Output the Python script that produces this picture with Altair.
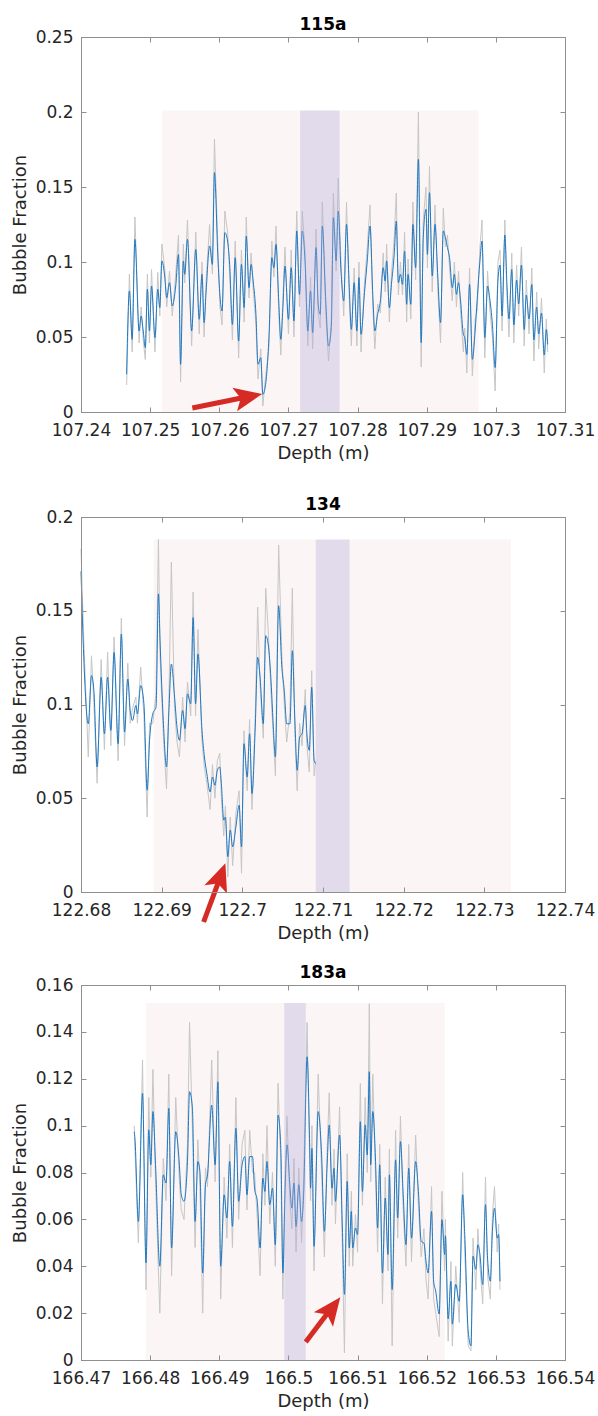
import altair as alt
import pandas as pd

# ---------------- Panel 1 : 115a ----------------
p1_depth = [107.2466, 107.2470, 107.2474, 107.2478, 107.2484, 107.2487, 107.2490, 107.2493, 107.2496, 107.2499,
            107.2502, 107.2507, 107.2511, 107.2514, 107.2517, 107.2521, 107.2524, 107.2528, 107.2532, 107.2537,
            107.2541, 107.2544, 107.2548, 107.2550, 107.2554, 107.2560, 107.2566, 107.2571, 107.2575, 107.2578,
            107.2581, 107.2586, 107.2590, 107.2593, 107.2598, 107.2601, 107.2604, 107.2608, 107.2612, 107.2615,
            107.2619, 107.2623, 107.2628, 107.2632, 107.2636, 107.2639, 107.2643, 107.2646, 107.2649, 107.2653,
            107.2656, 107.2660, 107.2663, 107.2667, 107.2672, 107.2676, 107.2679, 107.2682, 107.2686, 107.2689,
            107.2692, 107.2695, 107.2700, 107.2704, 107.2708, 107.2712, 107.2716, 107.2720, 107.2724, 107.2728,
            107.2732, 107.2735, 107.2740, 107.2743, 107.2746, 107.2749, 107.2754, 107.2758, 107.2762, 107.2765,
            107.2769, 107.2772, 107.2776, 107.2780, 107.2784, 107.2788, 107.2791, 107.2795, 107.2799, 107.2802,
            107.2805, 107.2810, 107.2814, 107.2818, 107.2822, 107.2825, 107.2829, 107.2833, 107.2837, 107.2840,
            107.2842, 107.2846, 107.2849, 107.2853, 107.2856, 107.2859, 107.2862, 107.2865, 107.2868, 107.2871,
            107.2873, 107.2877, 107.2880, 107.2884, 107.2888, 107.2892, 107.2895, 107.2899, 107.2901, 107.2904,
            107.2908, 107.2912, 107.2916, 107.2920, 107.2924, 107.2927, 107.2930, 107.2933, 107.2937, 107.2940,
            107.2943, 107.2946, 107.2949, 107.2953, 107.2955, 107.2958, 107.2962, 107.2966, 107.2970, 107.2973,
            107.2977, 107.2980, 107.2984, 107.2988, 107.2991, 107.2995, 107.2999, 107.3003, 107.3006, 107.3009,
            107.3013, 107.3016, 107.3019, 107.3023, 107.3026, 107.3030, 107.3033, 107.3037, 107.3041, 107.3044,
            107.3048, 107.3052, 107.3055, 107.3059, 107.3062, 107.3066, 107.3070, 107.3073, 107.3075]
p1_smooth = [0.0251, 0.0807, 0.0484, 0.1151, 0.0540, 0.0640, 0.0540, 0.0429, 0.0818, 0.0540,
             0.0840, 0.0496, 0.0818, 0.0696, 0.1007, 0.0907, 0.0762, 0.0862, 0.0707, 0.0840,
             0.1051, 0.0318, 0.1007, 0.0918, 0.1151, 0.0540, 0.1084, 0.0618, 0.0918, 0.0596,
             0.0807, 0.1107, 0.0984, 0.1596, 0.1029, 0.0773, 0.0673, 0.1196, 0.1140, 0.0984,
             0.0584, 0.1029, 0.0473, 0.0984, 0.0696, 0.1173, 0.0829, 0.0984, 0.0873, 0.0651,
             0.0318, 0.0362, 0.0118, 0.0184, 0.0518, 0.1029, 0.0962, 0.1118, 0.0740, 0.0484,
             0.0696, 0.0973, 0.0618, 0.0962, 0.0607, 0.1207, 0.0784, 0.1207, 0.1007, 0.0540,
             0.0807, 0.0529, 0.1096, 0.0718, 0.0651, 0.1240, 0.0740, 0.0440, 0.0562, 0.1296,
             0.1007, 0.1340, 0.0940, 0.0740, 0.1251, 0.0829, 0.0551, 0.0862, 0.0540, 0.0896,
             0.0518, 0.0796, 0.1007, 0.1240, 0.0784, 0.0540, 0.0651, 0.0740, 0.0962, 0.0873,
             0.1007, 0.0696, 0.0851, 0.1051, 0.1273, 0.0862, 0.0918, 0.0851, 0.1073, 0.0718,
             0.0918, 0.0718, 0.1251, 0.0962, 0.1684, 0.0462, 0.1162, 0.1351, 0.1051, 0.1462,
             0.0907, 0.1251, 0.0907, 0.0596, 0.1207, 0.1162, 0.1096, 0.1029, 0.0829, 0.0918,
             0.0784, 0.0862, 0.0740, 0.0518, 0.0496, 0.0384, 0.0851, 0.0351, 0.0540, 0.0751,
             0.1007, 0.1140, 0.0496, 0.0840, 0.0762, 0.0584, 0.0296, 0.0873, 0.0980, 0.0640,
             0.1180, 0.0850, 0.0620, 0.0950, 0.0580, 0.0880, 0.0720, 0.0980, 0.0550, 0.0780,
             0.0620, 0.0850, 0.0480, 0.0700, 0.0520, 0.0660, 0.0380, 0.0550, 0.0450]
p1_raw = [0.018, 0.092, 0.040, 0.130, 0.046, 0.070, 0.048, 0.035, 0.092, 0.046,
          0.095, 0.040, 0.093, 0.064, 0.112, 0.096, 0.070, 0.094, 0.064, 0.092,
          0.118, 0.020, 0.112, 0.086, 0.128, 0.044, 0.120, 0.052, 0.100, 0.050,
          0.088, 0.125, 0.092, 0.182, 0.110, 0.070, 0.058, 0.134, 0.120, 0.092,
          0.048, 0.114, 0.036, 0.108, 0.060, 0.130, 0.076, 0.106, 0.082, 0.058,
          0.022, 0.042, 0.004, 0.024, 0.044, 0.114, 0.090, 0.124, 0.066, 0.038,
          0.076, 0.110, 0.052, 0.108, 0.050, 0.134, 0.070, 0.134, 0.108, 0.044,
          0.090, 0.042, 0.122, 0.066, 0.056, 0.140, 0.066, 0.034, 0.062, 0.146,
          0.094, 0.156, 0.100, 0.064, 0.140, 0.076, 0.044, 0.096, 0.044, 0.100,
          0.040, 0.086, 0.110, 0.138, 0.070, 0.042, 0.072, 0.066, 0.106, 0.080,
          0.112, 0.060, 0.092, 0.116, 0.146, 0.078, 0.100, 0.078, 0.120, 0.060,
          0.102, 0.062, 0.140, 0.088, 0.200, 0.030, 0.128, 0.150, 0.096, 0.164,
          0.080, 0.138, 0.082, 0.046, 0.136, 0.110, 0.118, 0.096, 0.074, 0.100,
          0.070, 0.094, 0.066, 0.040, 0.056, 0.026, 0.096, 0.024, 0.062, 0.068,
          0.110, 0.128, 0.036, 0.094, 0.070, 0.050, 0.014, 0.100, 0.108, 0.054,
          0.128, 0.078, 0.050, 0.106, 0.046, 0.098, 0.064, 0.110, 0.044, 0.088,
          0.052, 0.096, 0.034, 0.080, 0.042, 0.076, 0.026, 0.062, 0.040]

# ---------------- Panel 2 : 134 ----------------
p2_depth = [122.6800, 122.6803, 122.6809, 122.6813, 122.6816, 122.6820, 122.6825, 122.6829, 122.6833, 122.6837,
            122.6841, 122.6846, 122.6850, 122.6854, 122.6858, 122.6861, 122.6864, 122.6868, 122.6870, 122.6874,
            122.6878, 122.6882, 122.6885, 122.6889, 122.6893, 122.6896, 122.6898, 122.6902, 122.6906, 122.6909,
            122.6912, 122.6916, 122.6919, 122.6922, 122.6926, 122.6929, 122.6932, 122.6936, 122.6939, 122.6942,
            122.6945, 122.6950, 122.6953, 122.6956, 122.6960, 122.6963, 122.6966, 122.6969, 122.6972, 122.6974,
            122.6977, 122.6979, 122.6982, 122.6985, 122.6988, 122.6992, 122.6996, 122.6999, 122.7002, 122.7006,
            122.7009, 122.7012, 122.7016, 122.7019, 122.7022, 122.7026, 122.7029, 122.7032, 122.7036, 122.7038,
            122.7041, 122.7045, 122.7049, 122.7052, 122.7055, 122.7059, 122.7062, 122.7065, 122.7068, 122.7071,
            122.7074, 122.7078, 122.7080, 122.7083, 122.7086, 122.7089, 122.7091]
p2_smooth = [0.1710, 0.1300, 0.0897, 0.1154, 0.1074, 0.0667, 0.1145, 0.0844, 0.1145, 0.0862,
             0.1278, 0.0791, 0.1376, 0.0853, 0.1136, 0.0968, 0.0915, 0.0995, 0.0950, 0.1101,
             0.1004, 0.0543, 0.0809, 0.0950, 0.0986, 0.1590, 0.1340, 0.0915, 0.0667, 0.0968,
             0.1216, 0.1039, 0.0879, 0.0809, 0.0968, 0.0871, 0.1057, 0.1004, 0.1464, 0.1004,
             0.1270, 0.0862, 0.0720, 0.0631, 0.0534, 0.0613, 0.0569, 0.0649, 0.0667, 0.0578,
             0.0383, 0.0400, 0.0188, 0.0330, 0.0241, 0.0347, 0.0463, 0.0241, 0.0791, 0.0613,
             0.0844, 0.0525, 0.0879, 0.1252, 0.1145, 0.0897, 0.1367, 0.1323, 0.1092, 0.0915,
             0.0720, 0.1527, 0.1198, 0.1074, 0.0897, 0.0897, 0.1287, 0.0933, 0.0649, 0.0826,
             0.0844, 0.0995, 0.0844, 0.0755, 0.1092, 0.0702, 0.0684]
p2_raw = [0.183, 0.140, 0.072, 0.126, 0.100, 0.058, 0.124, 0.076, 0.128, 0.078,
          0.136, 0.070, 0.146, 0.078, 0.122, 0.090, 0.098, 0.104, 0.090, 0.120,
          0.094, 0.040, 0.090, 0.090, 0.106, 0.188, 0.126, 0.084, 0.055, 0.104,
          0.176, 0.098, 0.080, 0.072, 0.104, 0.080, 0.112, 0.094, 0.160, 0.094,
          0.140, 0.080, 0.066, 0.058, 0.044, 0.068, 0.050, 0.070, 0.074, 0.050,
          0.030, 0.046, 0.008, 0.040, 0.014, 0.042, 0.054, 0.010, 0.086, 0.054,
          0.092, 0.044, 0.094, 0.152, 0.110, 0.082, 0.162, 0.140, 0.102, 0.086,
          0.062, 0.185, 0.126, 0.100, 0.080, 0.096, 0.162, 0.086, 0.054, 0.090,
          0.078, 0.108, 0.078, 0.064, 0.118, 0.062, 0.070]

# ---------------- Panel 3 : 183a ----------------
p3_depth = [166.4777, 166.4778, 166.4783, 166.4789, 166.4794, 166.4798, 166.4801, 166.4804, 166.4808, 166.4814,
            166.4819, 166.4823, 166.4827, 166.4831, 166.4837, 166.4842, 166.4845, 166.4849, 166.4854, 166.4857,
            166.4861, 166.4865, 166.4869, 166.4872, 166.4876, 166.4880, 166.4883, 166.4889, 166.4894, 166.4898,
            166.4902, 166.4907, 166.4911, 166.4915, 166.4919, 166.4924, 166.4928, 166.4933, 166.4937, 166.4940,
            166.4944, 166.4948, 166.4951, 166.4955, 166.4959, 166.4963, 166.4966, 166.4969, 166.4973, 166.4977,
            166.4981, 166.4985, 166.4989, 166.4992, 166.4995, 166.4998, 166.5002, 166.5005, 166.5008, 166.5011,
            166.5015, 166.5019, 166.5022, 166.5027, 166.5031, 166.5032, 166.5034, 166.5037, 166.5043, 166.5048,
            166.5052, 166.5056, 166.5059, 166.5063, 166.5066, 166.5068, 166.5074, 166.5078, 166.5081, 166.5085,
            166.5088, 166.5091, 166.5093, 166.5097, 166.5100, 166.5104, 166.5107, 166.5111, 166.5114, 166.5117,
            166.5119, 166.5122, 166.5126, 166.5129, 166.5132, 166.5136, 166.5140, 166.5144, 166.5146, 166.5150,
            166.5155, 166.5158, 166.5162, 166.5166, 166.5170, 166.5174, 166.5178, 166.5184, 166.5188, 166.5192,
            166.5196, 166.5199, 166.5202, 166.5207, 166.5210, 166.5213, 166.5218, 166.5222, 166.5226, 166.5227,
            166.5231, 166.5235, 166.5237, 166.5242, 166.5247, 166.5252, 166.5255, 166.5260, 166.5264, 166.5267,
            166.5271, 166.5274, 166.5277, 166.5281, 166.5285, 166.5288, 166.5292, 166.5295, 166.5298, 166.5302,
            166.5304, 166.5306]
p3_smooth = [0.0974, 0.0945, 0.0591, 0.1138, 0.0414, 0.0982, 0.0833, 0.1060, 0.0818, 0.0400,
             0.0790, 0.0755, 0.1074, 0.0478, 0.0974, 0.0847, 0.0705, 0.0677, 0.0847, 0.1145,
             0.1081, 0.0591, 0.0847, 0.0804, 0.0371, 0.0748, 0.0790, 0.1088, 0.0833, 0.1187,
             0.0400, 0.0705, 0.0606, 0.0847, 0.0570, 0.0989, 0.0677, 0.0833, 0.0868, 0.0705,
             0.0868, 0.0868, 0.0733, 0.0677, 0.0478, 0.0776, 0.0719, 0.0847, 0.0663, 0.0733,
             0.0492, 0.1045, 0.0903, 0.0371, 0.0705, 0.0918, 0.0748, 0.0648, 0.0755, 0.0570,
             0.0748, 0.0591, 0.0705, 0.1294, 0.0875, 0.0733, 0.0903, 0.0485, 0.1060, 0.0875,
             0.0549, 0.0833, 0.1003, 0.0733, 0.0818, 0.0677, 0.0960, 0.0563, 0.0280, 0.0762,
             0.0478, 0.0634, 0.0478, 0.0563, 0.0535, 0.1017, 0.0719, 0.1003, 0.0875, 0.1230,
             0.0833, 0.1060, 0.0847, 0.0563, 0.0833, 0.0371, 0.0691, 0.0450, 0.0790, 0.0300,
             0.0854, 0.0606, 0.0932, 0.0705, 0.0492, 0.0818, 0.0520, 0.0847, 0.0719, 0.0506,
             0.0499, 0.0421, 0.0371, 0.0634, 0.0336, 0.0294, 0.0196, 0.0599, 0.0450, 0.0530,
             0.0175, 0.0336, 0.0153, 0.0323, 0.0250, 0.0705, 0.0535, 0.0123, 0.0060, 0.0443,
             0.0387, 0.0492, 0.0450, 0.0322, 0.0663, 0.0435, 0.0336, 0.0549, 0.0648, 0.0520,
             0.0535, 0.0336]
p3_raw = [0.100, 0.090, 0.050, 0.128, 0.030, 0.112, 0.078, 0.124, 0.074, 0.020,
          0.086, 0.068, 0.122, 0.036, 0.112, 0.078, 0.064, 0.060, 0.092, 0.144,
          0.100, 0.048, 0.094, 0.074, 0.020, 0.082, 0.074, 0.128, 0.076, 0.132,
          0.026, 0.078, 0.052, 0.092, 0.048, 0.112, 0.060, 0.092, 0.098, 0.064,
          0.098, 0.080, 0.080, 0.060, 0.036, 0.088, 0.066, 0.100, 0.058, 0.080,
          0.040, 0.118, 0.084, 0.026, 0.078, 0.104, 0.068, 0.056, 0.086, 0.046,
          0.082, 0.050, 0.078, 0.144, 0.080, 0.068, 0.100, 0.038, 0.122, 0.080,
          0.044, 0.090, 0.114, 0.066, 0.090, 0.058, 0.108, 0.048, 0.003, 0.088,
          0.040, 0.072, 0.040, 0.062, 0.046, 0.118, 0.066, 0.112, 0.080, 0.152,
          0.076, 0.122, 0.078, 0.046, 0.092, 0.024, 0.078, 0.038, 0.090, 0.006,
          0.098, 0.052, 0.104, 0.064, 0.040, 0.092, 0.042, 0.096, 0.066, 0.044,
          0.056, 0.034, 0.026, 0.074, 0.026, 0.020, 0.010, 0.072, 0.038, 0.060,
          0.008, 0.042, 0.006, 0.040, 0.016, 0.080, 0.046, 0.006, 0.004, 0.052,
          0.030, 0.056, 0.040, 0.024, 0.078, 0.036, 0.026, 0.062, 0.074, 0.046,
          0.058, 0.030]

# axis ticks and domains
p1_xticks = [107.24, 107.25, 107.26, 107.27, 107.28, 107.29, 107.30, 107.31]
p1_yticks = [0, 0.05, 0.10, 0.15, 0.20, 0.25]
p2_xticks = [122.68, 122.69, 122.70, 122.71, 122.72, 122.73, 122.74]
p2_yticks = [0, 0.05, 0.10, 0.15, 0.20]
p3_xticks = [166.47, 166.48, 166.49, 166.50, 166.51, 166.52, 166.53, 166.54]
p3_yticks = [0, 0.02, 0.04, 0.06, 0.08, 0.10, 0.12, 0.14, 0.16]

# shaded windows: [start, end, top]
p1_window = [107.2517, 107.2975, 0.201]
p1_band = [107.2717, 107.2774, 0.201]
p2_window = [122.6890, 122.7333, 0.188]
p2_band = [122.7091, 122.7133, 0.188]
p3_window = [166.4794, 166.5226, 0.1523]
p3_band = [166.4994, 166.5025, 0.1523]

# arrows: tail, neck (end of shaft), tip  (depth, fraction)
p1_arrow = [(107.2561, 0.0027), (107.2632, 0.0093), (107.2662, 0.0120)]
p2_arrow = [(122.6952, -0.0160), (122.6970, 0.0049), (122.6979, 0.0154)]
p3_arrow = [(166.5025, 0.0077), (166.5056, 0.0197), (166.5075, 0.0268)]
arrow_angles = [78.7, 20.2, 37.1]

FONT = "DejaVu Sans"
TXT = "#262626"
AX = "#8f8f8f"
BLUE = "#1f78c1"
GRAY = "#c6c6c6"
PINK = "#fcf5f5"
PURPLE = "#b3acd9"
RED = "#d62a24"
W, H = 484, 375
HEAD = "M0,0L0.43,1L0,0.78L-0.43,1Z"


def panel(title, depth, smooth, raw, xdom, xticks, ydom, yticks, window, band, arrow, angle):
    lines = pd.DataFrame({"depth": depth, "smooth": smooth, "raw": raw})
    win = pd.DataFrame({"a": [window[0]], "b": [window[1]], "lo": [0.0], "hi": [window[2]]})
    bnd = pd.DataFrame({"a": [band[0]], "b": [band[1]], "lo": [0.0], "hi": [band[2]]})
    arr = pd.DataFrame({"tx": [arrow[0][0]], "ty": [arrow[0][1]], "nx": [arrow[1][0]], "ny": [arrow[1][1]],
                        "px": [arrow[2][0]], "py": [arrow[2][1]]})
    xs = alt.Scale(domain=xdom, nice=False, zero=False)
    ys = alt.Scale(domain=ydom, nice=False, zero=False)

    common = dict(grid=False, domainColor=AX, domainWidth=1, tickColor=AX, tickWidth=1, zindex=1)
    x_main = alt.Axis(values=xticks, format=".2~f", orient="bottom", title="Depth (m)", ticks=False, tickSize=0,
                      labelFont=FONT, labelFontSize=17, labelColor=TXT, labelPadding=10, labelFlush=False,
                      labelOverlap=False, titleFont=FONT, titleFontSize=18, titleFontWeight="normal",
                      titleColor=TXT, titlePadding=6, **common)
    y_main = alt.Axis(values=yticks, format=".2~f", orient="left", title="Bubble Fraction", ticks=False, tickSize=0,
                      labelFont=FONT, labelFontSize=17, labelColor=TXT, labelPadding=8, labelFlush=False,
                      labelOverlap=False, titleFont=FONT, titleFontSize=18, titleFontWeight="normal",
                      titleColor=TXT, titlePadding=6, **common)
    x_topticks = alt.Axis(values=xticks, orient="bottom", offset=-H, labels=False, title="", tickSize=5, **common)
    x_botticks = alt.Axis(values=xticks, orient="top", offset=-H, labels=False, title="", tickSize=5, **common)
    y_rightticks = alt.Axis(values=yticks, orient="left", offset=-W, labels=False, title="", tickSize=5, **common)
    y_leftticks = alt.Axis(values=yticks, orient="right", offset=-W, labels=False, title="", tickSize=5, **common)

    pink = alt.Chart(win).mark_rect(color=PINK).encode(
        x=alt.X("a:Q", scale=xs, axis=x_main), x2="b:Q",
        y=alt.Y("lo:Q", scale=ys, axis=y_main), y2="hi:Q")
    gray = alt.Chart(lines).mark_line(color=GRAY, strokeWidth=1).encode(
        x=alt.X("depth:Q", scale=xs, axis=x_botticks),
        y=alt.Y("raw:Q", scale=ys, axis=y_leftticks))
    blue = alt.Chart(lines).mark_line(color=BLUE, strokeWidth=1, interpolate="monotone").encode(
        x=alt.X("depth:Q", scale=xs, axis=None),
        y=alt.Y("smooth:Q", scale=ys, axis=None))
    purple = alt.Chart(bnd).mark_rect(color=PURPLE, opacity=0.35).encode(
        x=alt.X("a:Q", scale=xs, axis=x_topticks), x2="b:Q",
        y=alt.Y("lo:Q", scale=ys, axis=y_rightticks), y2="hi:Q")
    shaft = alt.Chart(arr).mark_rule(color=RED, strokeWidth=5).encode(
        x=alt.X("tx:Q", scale=xs, axis=None), x2="nx:Q",
        y=alt.Y("ty:Q", scale=ys, axis=None), y2="ny:Q")
    head = alt.Chart(arr).mark_point(shape=HEAD, filled=True, size=3136, angle=angle, color=RED,
                                     opacity=1, strokeWidth=0).encode(
        x=alt.X("px:Q", scale=xs, axis=None),
        y=alt.Y("py:Q", scale=ys, axis=None))
    return alt.layer(pink, gray, blue, purple, shaft, head).resolve_axis(
        x="independent", y="independent").properties(
        width=W, height=H,
        title=alt.TitleParams(title, font=FONT, fontSize=17, fontWeight="bold", color="#000000",
                              anchor="middle", offset=-6))


c1 = panel("115a", p1_depth, p1_smooth, p1_raw, [107.24, 107.31], p1_xticks, [0, 0.25], p1_yticks,
           p1_window, p1_band, p1_arrow, arrow_angles[0])
c2 = panel("134", p2_depth, p2_smooth, p2_raw, [122.68, 122.74], p2_xticks, [0, 0.2], p2_yticks,
           p2_window, p2_band, p2_arrow, arrow_angles[1])
c3 = panel("183a", p3_depth, p3_smooth, p3_raw, [166.47, 166.54], p3_xticks, [0, 0.16], p3_yticks,
           p3_window, p3_band, p3_arrow, arrow_angles[2])

chart = alt.vconcat(c1, alt.vconcat(c2, c3, spacing=20), spacing=32).properties(
    padding={"left": 10, "top": 15, "right": 0, "bottom": 0}, background="white"
).configure_view(stroke="transparent")

chart.save("out.html", embed_options={"renderer": "svg", "actions": False})
